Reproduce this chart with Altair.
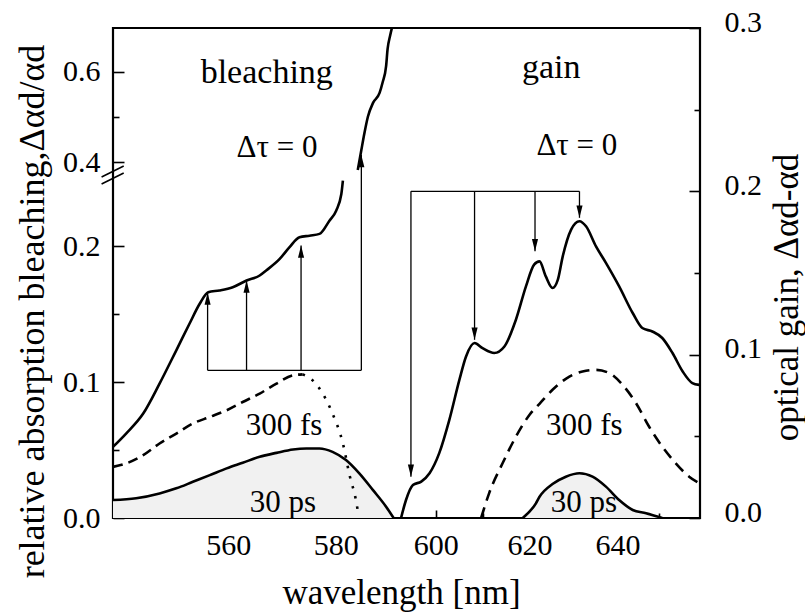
import altair as alt
import pandas as pd

FONT = "'Liberation Serif', 'Times New Roman', 'DejaVu Serif', serif"
WN = 1e7  # nm -> cm^-1 (x axis is linear in photon energy)

# ---------------- data (wavelength nm, value) ----------------
# bleaching, delta tau = 0 (left axis), lower part below the axis break
bl0a_wl = [540.0, 542.2, 545.1, 547.9, 550.8, 553.1, 554.9, 556.4, 558.4, 560.8, 563.3,
           565.7, 566.9, 569.4, 571.2, 573.1, 575.0, 576.9, 578.8, 580.1, 581.1, 581.4]
bl0a_v = [0.0523, 0.0621, 0.0768, 0.0988, 0.1233, 0.1428, 0.1575, 0.1660, 0.1673, 0.1697, 0.1746,
          0.1783, 0.1820, 0.1905, 0.1990, 0.2064, 0.2076, 0.2089, 0.2186, 0.2260, 0.2382, 0.2480]
# bleaching, delta tau = 0, part above the axis break
bl0b_wl = [584.3, 585.0, 585.6, 586.3, 587.3, 588.6, 589.2, 589.9, 590.2, 590.7, 591.1]
bl0b_v = [0.383, 0.427, 0.464, 0.501, 0.531, 0.553, 0.576, 0.612, 0.650, 0.679, 0.698]
# bleaching 300 fs (dashed, then dotted)
bl300_wl = [540.0, 542.2, 545.1, 547.9, 550.8, 553.7, 556.7, 559.7, 562.6, 565.7, 568.8, 571.9, 573.7]
bl300_v = [0.0376, 0.0401, 0.0462, 0.0548, 0.0621, 0.0695, 0.0743, 0.0792, 0.0853, 0.0915, 0.0988, 0.1049, 0.1056]
bl300d_wl = [573.7, 575.6, 577.5, 579.4, 581.4, 582.7, 584.0, 584.4]
bl300d_v = [0.1056, 0.1012, 0.0915, 0.0768, 0.0548, 0.0315, 0.0120, 0.0030]
# bleaching 30 ps
bl30_wl = [540.0, 543.9, 547.9, 550.8, 553.7, 556.7, 559.7, 562.6, 565.7, 568.8, 571.9, 574.4,
           576.9, 579.4, 582.0, 584.6, 587.3, 589.9, 591.4]
bl30_v = [0.0132, 0.0145, 0.0181, 0.0218, 0.0266, 0.0315, 0.0365, 0.0406, 0.0450, 0.0479, 0.0504, 0.0511,
          0.0511, 0.0486, 0.0426, 0.0328, 0.0205, 0.0083, 0.0]

# gain, delta tau = 0 (right axis)
g0_wl = [592.9, 593.9, 595.3, 597.0, 598.7, 600.7, 602.8, 604.9, 606.3, 608.1, 609.8, 612.3, 614.5,
         617.0, 619.2, 621.0, 622.2, 623.6, 625.1, 626.3, 627.4, 629.3, 631.2, 632.7, 635.0, 637.3,
         640.4, 643.6, 645.9, 648.3, 650.7, 653.2, 655.7, 658.1, 659.8]
g0_v = [0.0, 0.0110, 0.0202, 0.0223, 0.0274, 0.0397, 0.0601, 0.0846, 0.0989, 0.1071, 0.1040, 0.1010, 0.1050,
        0.1214, 0.1418, 0.1551, 0.1571, 0.1479, 0.1408, 0.1459, 0.1602, 0.1766, 0.1817, 0.1786, 0.1663, 0.1562,
        0.1418, 0.1255, 0.1163, 0.1142, 0.1102, 0.1010, 0.0897, 0.0826, 0.0815]
# gain 300 fs
g300_wl = [609.5, 611.2, 614.1, 617.0, 620.0, 622.2, 625.1, 628.9, 631.9, 635.0, 638.1, 641.2,
           644.4, 647.5, 650.7, 654.0, 657.3, 659.8]
g300_v = [0.0, 0.0151, 0.0335, 0.0498, 0.0632, 0.0699, 0.0785, 0.0866, 0.0897, 0.0907, 0.0887, 0.0815,
          0.0703, 0.0560, 0.0437, 0.0335, 0.0253, 0.0213]
# gain 30 ps
g30_wl = [618.5, 621.4, 622.2, 625.1, 628.1, 631.2, 634.2, 637.3, 640.4, 643.6, 646.8, 650.7]
g30_v = [0.0, 0.0090, 0.0130, 0.0208, 0.0253, 0.0274, 0.0253, 0.0192, 0.0110, 0.0049, 0.0029, 0.0]

# arrows
bl_arrow_wl = [556.3, 563.3, 573.4, 585.0]
bl_arrow_tip = [0.1658, 0.1746, 0.2003, 0.416]
bl_arrow_base = 0.1086
g_arrow_wl = [594.9, 608.1, 621.2, 631.2]
g_arrow_tip = [0.0253, 0.1091, 0.1633, 0.1838]
g_arrow_base = 0.200

# text labels
bl_text = ["bleaching", "Δτ = 0", "300 fs", "30 ps"]
bl_text_wl = [567.0, 568.9, 570.2, 570.0]
bl_text_v = [0.5756, 0.4124, 0.0609, 0.0046]
bl_text_fs = [34, 31, 31, 31]
g_text = ["gain", "Δτ = 0", "300 fs", "30 ps"]
g_text_wl = [624.8, 630.6, 632.3, 632.2]
g_text_v = [0.2696, 0.222, 0.0509, 0.0039]
g_text_fs = [34, 31, 31, 31]

# axis ticks
x_major = [560, 580, 600, 620, 640]
x_minor = [550, 570, 590, 610, 630, 650]
yl_major = [0.0, 0.1, 0.2, 0.4, 0.6]
yl_minor = [0.05, 0.15, 0.5]
yr_major = [0.0, 0.1, 0.2, 0.3]
yr_minor = [0.05, 0.15, 0.25]

# ---------------- broken left axis ----------------
LOW_PX = 1360.0
D_TOP = 490.0 / LOW_PX
UP_BASE = 355.7 / LOW_PX      # display position of 0.4
UP_SLOPE = 0.3335


def disp(v):
    return v if v < 0.3 else UP_BASE + (v - 0.4) * UP_SLOPE


def bdf(wl, v, **extra):
    d = {"wn": [WN / w for w in wl], "d": [disp(x) for x in v]}
    d.update(extra)
    return pd.DataFrame(d)


def gdf(wl, v, **extra):
    d = {"wn": [WN / w for w in wl], "g": list(v)}
    d.update(extra)
    return pd.DataFrame(d)


xs = alt.Scale(domain=[WN / 660, WN / 540], reverse=True, nice=False, zero=False)
ysB = alt.Scale(domain=[0, D_TOP], nice=False, zero=False)
ysG = alt.Scale(domain=[0, 0.3], nice=False, zero=False)


def X(axis=None):
    return alt.X("wn:Q", scale=xs, axis=axis)


def YB(axis=None):
    return alt.Y("d:Q", scale=ysB, axis=axis)


def YG(axis=None):
    return alt.Y("g:Q", scale=ysG, axis=axis)


LW = 2.6

ax_x_major = alt.Axis(orient="bottom", values=[WN / v for v in x_major],
                      labelExpr="format(10000000/datum.value, '.0f')",
                      offset=-8, tickSize=8, tickWidth=1.6, domain=False, grid=False,
                      labelPadding=12, labelFontSize=30, labelFlush=False, labelOverlap=False,
                      title="wavelength [nm]", titleFontSize=35, titleX=288, titleY=93,
                      titleAlign="center", titleBaseline="alphabetic")
ax_x_minor = alt.Axis(orient="bottom", values=[WN / v for v in x_minor], labels=False,
                      offset=-5, tickSize=5, tickWidth=1.6, domain=False, grid=False, title=None)

ax_yl_major = alt.Axis(orient="left", values=[disp(v) for v in yl_major],
                       labelExpr=f"datum.value < 0.25 ? format(datum.value, '.1f') : format(0.4 + (datum.value - {UP_BASE})/{UP_SLOPE}, '.1f')",
                       offset=-11, tickSize=11, tickWidth=1.6, domain=False, grid=False,
                       labelPadding=13, labelFontSize=30, labelFlush=False, labelOverlap=False,
                       title="relative absorption bleaching,Δαd/αd", titleFontSize=36,
                       titleAngle=270, titleX=-81, titleY=283,
                       titleAlign="center", titleBaseline="alphabetic")
ax_yl_minor = alt.Axis(orient="left", values=[disp(v) for v in yl_minor], labels=False,
                       offset=-6, tickSize=6, tickWidth=1.6, domain=False, grid=False, title=None)

ax_yr_major = alt.Axis(orient="right", values=yr_major, format=".1f",
                       offset=-11, tickSize=11, tickWidth=1.6, domain=False, grid=False,
                       labelPadding=24, labelOffset=-6, labelFontSize=30, labelFlush=False,
                       labelOverlap=False,
                       title="optical gain, Δαd-αd", titleFontSize=35,
                       titleAngle=270, titleX=108, titleY=269,
                       titleAlign="center", titleBaseline="alphabetic")
ax_yr_minor = alt.Axis(orient="right", values=yr_minor, labels=False,
                       offset=-6, tickSize=6, tickWidth=1.6, domain=False, grid=False, title=None)

# ---------------- layers ----------------
SHADE = "#f1f1f1"
area_b = alt.Chart(bdf(bl30_wl, bl30_v)).mark_area(color=SHADE, opacity=1).encode(
    x=X(), y=YB())
area_g = alt.Chart(gdf(g30_wl, g30_v)).mark_area(color=SHADE, opacity=1).encode(
    x=X(), y=YG())

bl_solid_df = pd.concat([bdf(bl0a_wl, bl0a_v, seg="a"), bdf(bl0b_wl, bl0b_v, seg="b"),
                         bdf(bl30_wl, bl30_v, seg="c")])
bl_solid = alt.Chart(bl_solid_df).mark_line(color="black", strokeWidth=LW, clip=True,
                                            interpolate="monotone").encode(
    x=X(ax_x_major), y=YB(ax_yl_major), detail="seg:N")

bl_dash = alt.Chart(bdf(bl300_wl, bl300_v)).mark_line(color="black", strokeWidth=LW,
                                                      strokeDash=[10, 6], interpolate="monotone").encode(
    x=X(ax_x_minor), y=YB(ax_yl_minor))
bl_dot = alt.Chart(bdf(bl300d_wl, bl300d_v)).mark_line(color="black", strokeWidth=LW,
                                                       strokeDash=[2.5, 8], interpolate="monotone").encode(
    x=X(), y=YB())

g_solid_df = pd.concat([gdf(g0_wl, g0_v, seg="a"), gdf(g30_wl, g30_v, seg="c")])
g_solid = alt.Chart(g_solid_df).mark_line(color="black", strokeWidth=LW, clip=True,
                                          interpolate="monotone").encode(
    x=X(), y=YG(ax_yr_major), detail="seg:N")
g_dash = alt.Chart(gdf(g300_wl, g300_v)).mark_line(color="black", strokeWidth=LW,
                                                   strokeDash=[11, 7], interpolate="monotone").encode(
    x=X(), y=YG(ax_yr_minor))

# arrows for bleaching
bl_arr_df = bdf(bl_arrow_wl, bl_arrow_tip)
bl_arr_df["d0"] = disp(bl_arrow_base)
bl_stems = alt.Chart(bl_arr_df).mark_rule(color="black", strokeWidth=1.3).encode(
    x=X(), y=YB(), y2="d0:Q")
bl_brk_df = pd.DataFrame({"wn": [WN / bl_arrow_wl[0]], "wn2": [WN / bl_arrow_wl[-1]],
                          "d": [disp(bl_arrow_base)]})
bl_bracket = alt.Chart(bl_brk_df).mark_rule(color="black", strokeWidth=1.3).encode(
    x=X(), x2="wn2:Q", y=YB())
UP = "M0,0L-0.5,2L0.5,2Z"
DOWN = "M0,0L-0.5,-2L0.5,-2Z"
bl_heads = alt.Chart(bl_arr_df).mark_point(shape=UP, filled=True, size=150, color="black",
                                           opacity=1).encode(x=X(), y=YB())

# arrows for gain
g_arr_df = gdf(g_arrow_wl, g_arrow_tip)
g_arr_df["g0"] = g_arrow_base
g_stems = alt.Chart(g_arr_df).mark_rule(color="black", strokeWidth=1.3).encode(
    x=X(), y=YG(), y2="g0:Q")
g_brk_df = pd.DataFrame({"wn": [WN / g_arrow_wl[0]], "wn2": [WN / g_arrow_wl[-1]],
                         "g": [g_arrow_base]})
g_bracket = alt.Chart(g_brk_df).mark_rule(color="black", strokeWidth=1.3).encode(
    x=X(), x2="wn2:Q", y=YG())
g_heads = alt.Chart(g_arr_df).mark_point(shape=DOWN, filled=True, size=150, color="black",
                                         opacity=1).encode(x=X(), y=YG())

# texts
bl_txt = alt.Chart(bdf(bl_text_wl, bl_text_v, t=bl_text, fs=bl_text_fs)).mark_text(
    font=FONT, color="black", align="center", baseline="alphabetic").encode(
    x=X(), y=YB(), text="t:N", size=alt.Size("fs:Q", scale=None))
g_txt = alt.Chart(gdf(g_text_wl, g_text_v, t=g_text, fs=g_text_fs)).mark_text(
    font=FONT, color="black", align="center", baseline="alphabetic").encode(
    x=X(), y=YG(), text="t:N", size=alt.Size("fs:Q", scale=None))

# axis break marks (display units)
brk_df = pd.DataFrame({"wn": [WN / 538.1, WN / 541.8, WN / 538.1, WN / 541.8],
                       "d": [0.2456, 0.2537, 0.2507, 0.2588], "k": ["a", "a", "b", "b"]})
brk = alt.Chart(brk_df).mark_line(color="black", strokeWidth=1.6).encode(
    x=X(), y=YB(), detail="k:N")

chart = alt.layer(
    area_b, area_g, bl_solid, bl_dash, bl_dot, g_solid, g_dash,
    bl_stems, bl_bracket, bl_heads, g_stems, g_bracket, g_heads,
    bl_txt, g_txt, brk
).resolve_scale(y="independent").resolve_axis(x="independent", y="independent").properties(
    width=587, height=490,
    autosize=alt.AutoSizeParams(type="none"),
    padding={"left": 113, "top": 28, "right": 105, "bottom": 95},
    background="white",
).configure_view(stroke="black", strokeWidth=2.2).configure_axis(
    labelFont=FONT, titleFont=FONT, labelColor="black", titleColor="black",
    tickColor="black", titleFontWeight="normal"
).configure_text(font=FONT)

chart.save("out.html", embed_options={"renderer": "svg", "actions": False})
